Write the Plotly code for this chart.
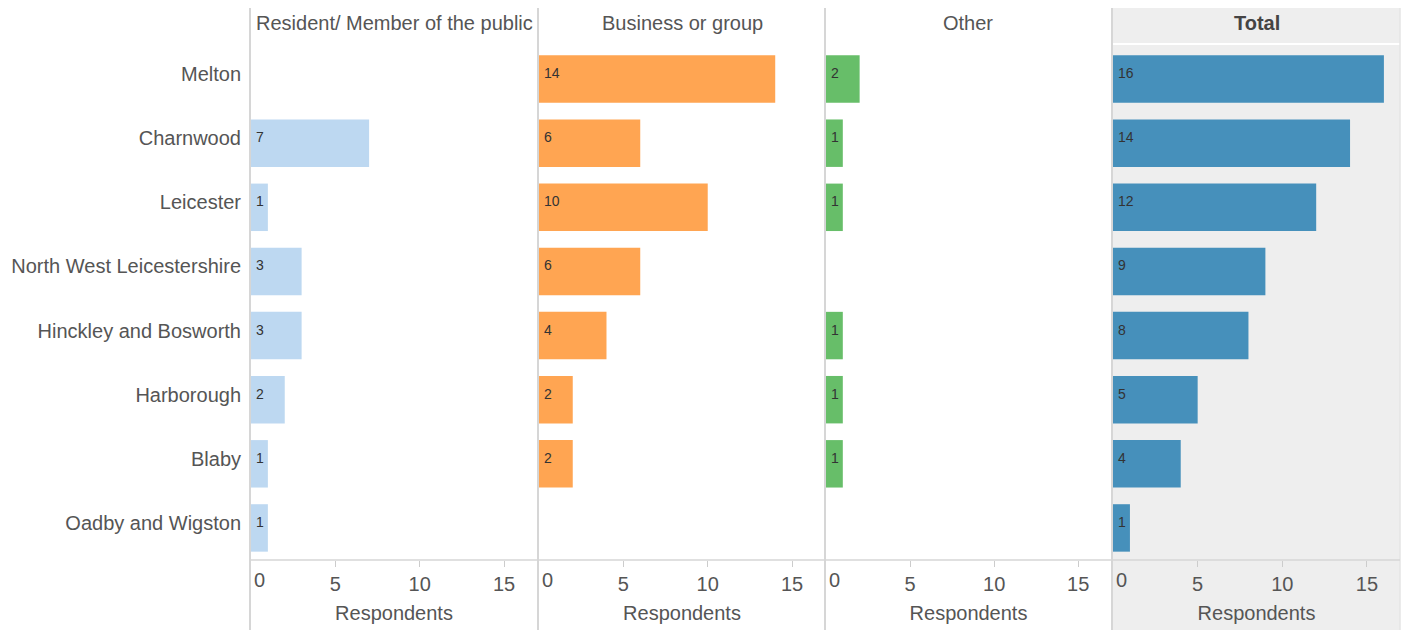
import plotly.graph_objects as go

W, H = 1404, 630

districts = ["Melton", "Charnwood", "Leicester", "North West Leicestershire",
             "Hinckley and Bosworth", "Harborough", "Blaby", "Oadby and Wigston"]
resident = [None, 7, 1, 3, 3, 2, 1, 1]
business = [14, 6, 10, 6, 4, 2, 2, None]
other = [2, 1, 1, None, 1, 1, 1, None]
total = [16, 14, 12, 9, 8, 5, 4, 1]

panel_titles = ["Resident/ Member of the public", "Business or group", "Other", "Total"]
colors = ["#BDD8F1", "#FFA552", "#67BE69", "#4690BB"]
series = [resident, business, other, total]
tick_vals = [5, 10, 15]
tick_text = ["5", "10", "15"]
zero_label = "0"
axis_title = "Respondents"

# pixel layout
panels_px = [(251, 537), (539, 825), (826, 1111), (1113, 1400)]
sep_px = [250, 538, 825, 1112]
plot_top, plot_bot = 47, 560
head_top, head_y, head_line = 8, 23, 44


def fx(x):
    return x / W


def fy(y):
    return 1 - y / H


fig = go.Figure()
GREY = "#555555"
FONT = "Liberation Sans, Arial, sans-serif"

shapes = []
# Total panel background
shapes.append(dict(type="rect", xref="paper", yref="paper", x0=fx(1112), x1=fx(1400),
                   y0=0, y1=fy(head_top), fillcolor="#EEEEEE", line_width=0, layer="below"))
shapes.append(dict(type="line", xref="paper", yref="paper", x0=fx(1113), x1=fx(1400),
                   y0=fy(head_line), y1=fy(head_line), line=dict(color="white", width=2), layer="below"))

annotations = []
for i, (vals, col, title, (x0, x1)) in enumerate(zip(series, colors, panel_titles, panels_px)):
    n = "" if i == 0 else str(i + 1)
    fig.add_trace(go.Bar(
        x=vals, y=districts, orientation="h", marker=dict(color=col, line_width=0),
        width=0.74, xaxis="x" + n, yaxis="y" + n, showlegend=False, hoverinfo="x+y"))
    fig.layout["xaxis" + n] = dict(
        domain=[fx(x0), fx(x1)], range=[0, 16.95], anchor="y" + n,
        tickvals=tick_vals, ticktext=tick_text, ticks="outside", ticklen=6,
        tickcolor="#CCCCCC", tickwidth=1, showgrid=False, zeroline=False, showline=False,
        tickfont=dict(size=20, color=GREY, family=FONT),
        title=dict(text=axis_title, font=dict(size=20, color=GREY, family=FONT), standoff=11),
        fixedrange=True)
    fig.layout["yaxis" + n] = dict(
        domain=[fy(plot_bot), fy(plot_top)], anchor="x" + n,
        categoryorder="array", categoryarray=districts[::-1],
        showticklabels=(i == 0), ticks="", showgrid=False, zeroline=False, showline=False,
        tickfont=dict(size=20, color=GREY, family=FONT), ticklabelstandoff=9,
        ticklabelshift=-5, fixedrange=True)
    # header
    annotations.append(dict(
        xref="paper", yref="paper", x=fx((x0 + x1) / 2), y=fy(head_y),
        text=("<b>%s</b>" % title) if i == 3 else title, showarrow=False,
        xanchor="center", yanchor="middle",
        font=dict(size=20, color=GREY if i < 3 else "#444444", family=FONT)))
    # zero tick label
    annotations.append(dict(
        xref="x" + n, yref="paper", x=0, y=fy(580), text=zero_label, showarrow=False,
        xanchor="left", yanchor="middle", xshift=1,
        font=dict(size=20, color=GREY, family=FONT)))
    # value labels
    for d, v in zip(districts, vals):
        if v is None:
            continue
        annotations.append(dict(
            xref="x" + n, yref="y" + n, x=0, y=d, text=str(v), showarrow=False,
            xanchor="left", yanchor="middle", xshift=3, yshift=6,
            font=dict(size=14, color="#333333", family=FONT)))

# separators
for sx in sep_px:
    shapes.append(dict(type="line", xref="paper", yref="paper", x0=fx(sx), x1=fx(sx),
                       y0=0, y1=fy(head_top), line=dict(color="#D6D6D6", width=2), layer="above"))
shapes.append(dict(type="line", xref="paper", yref="paper", x0=fx(1400), x1=fx(1400),
                   y0=0, y1=fy(head_top), line=dict(color="#E4E4E4", width=1.5), layer="above"))
shapes.append(dict(type="line", xref="paper", yref="paper", x0=fx(250), x1=fx(1400),
                   y0=fy(560), y1=fy(560), line=dict(color="#D6D6D6", width=1.5), layer="above"))

fig.update_layout(
    width=W, height=H, margin=dict(l=0, r=0, t=0, b=0),
    paper_bgcolor="white", plot_bgcolor="rgba(0,0,0,0)",
    shapes=shapes, annotations=annotations, bargap=0.26,
    font=dict(family=FONT, color=GREY),
)

fig.write_html("out.html", config={"displayModeBar": False})
